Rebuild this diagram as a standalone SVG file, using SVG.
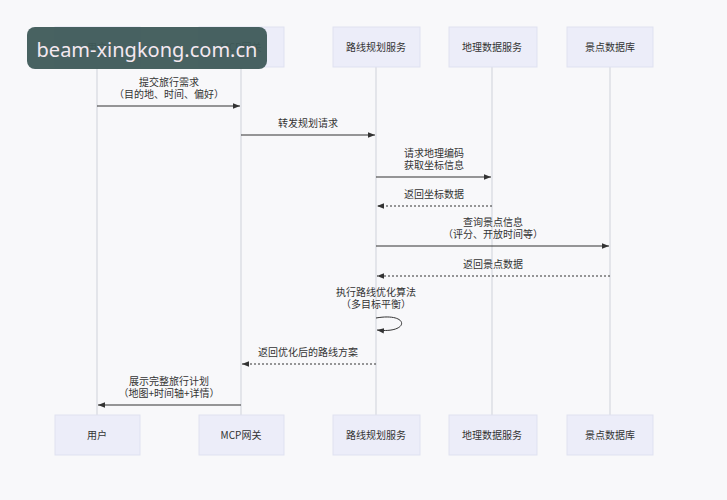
<svg xmlns="http://www.w3.org/2000/svg" width="727" height="500" viewBox="0 0 727 500">
<style>
.box{fill:#ecedf9;stroke:#dfe1f0;stroke-width:1}
.t{font-family:"Noto Sans CJK SC","Noto Sans",sans-serif;font-size:10px;fill:#333;text-anchor:middle}
.life{stroke:#cfd2da;stroke-width:1}
.m{stroke:#333;stroke-width:1;fill:none}
.d{stroke-dasharray:2,2}
</style>
<defs><marker id="a" viewBox="0 0 10 10" refX="10" refY="5" markerWidth="7" markerHeight="7" orient="auto"><path d="M0,1L10,5L0,9z" fill="#333"/></marker></defs>
<rect width="727" height="500" fill="#f8f8fa"/>
<g id="lifelines">
<line class="life" x1="97" y1="67" x2="97" y2="415"/>
<line class="life" x1="241" y1="67" x2="241" y2="415"/>
<line class="life" x1="376" y1="67" x2="376" y2="415"/>
<line class="life" x1="492" y1="67" x2="492" y2="415"/>
<line class="life" x1="610" y1="67" x2="610" y2="415"/>
</g>
<g id="n-user"><rect class="box" x="55" y="27" width="85" height="40"/><text class="t" x="97" y="51">用户</text><rect class="box" x="55" y="415" width="85" height="40"/><text class="t" x="97" y="439">用户</text></g>
<g id="n-mcp"><rect class="box" x="199" y="27" width="85" height="40"/><text class="t" x="241" y="51">MCP网关</text><rect class="box" x="199" y="415" width="85" height="40"/><text class="t" x="241" y="439">MCP网关</text></g>
<g id="n-route"><rect class="box" x="333" y="27" width="87" height="40"/><text class="t" x="376" y="51">路线规划服务</text><rect class="box" x="333" y="415" width="87" height="40"/><text class="t" x="376" y="439">路线规划服务</text></g>
<g id="n-geo"><rect class="box" x="449" y="27" width="88" height="40"/><text class="t" x="492" y="51">地理数据服务</text><rect class="box" x="449" y="415" width="88" height="40"/><text class="t" x="492" y="439">地理数据服务</text></g>
<g id="n-poi"><rect class="box" x="567" y="27" width="86" height="40"/><text class="t" x="610" y="51">景点数据库</text><rect class="box" x="567" y="415" width="86" height="40"/><text class="t" x="610" y="439">景点数据库</text></g>
<g id="connectors">
<line class="m" x1="97" y1="106" x2="240" y2="106" marker-end="url(#a)"/>
<text class="t" x="169" y="86">提交旅行需求</text><text class="t" x="169" y="98">（目的地、时间、偏好）</text>
<line class="m" x1="241" y1="135" x2="375" y2="135" marker-end="url(#a)"/>
<text class="t" x="308" y="127">转发规划请求</text>
<line class="m" x1="376" y1="177" x2="491" y2="177" marker-end="url(#a)"/>
<text class="t" x="434" y="157">请求地理编码</text><text class="t" x="434" y="169">获取坐标信息</text>
<line class="m d" x1="492" y1="206" x2="377" y2="206" marker-end="url(#a)"/>
<text class="t" x="434" y="198">返回坐标数据</text>
<line class="m" x1="376" y1="246" x2="609" y2="246" marker-end="url(#a)"/>
<text class="t" x="493" y="226">查询景点信息</text><text class="t" x="493" y="238">（评分、开放时间等）</text>
<line class="m d" x1="610" y1="276" x2="377" y2="276" marker-end="url(#a)"/>
<text class="t" x="493" y="268">返回景点数据</text>
<path class="m" d="M376,318 C410,312 410,334 377,330" marker-end="url(#a)"/>
<text class="t" x="376" y="296">执行路线优化算法</text><text class="t" x="376" y="308">（多目标平衡）</text>
<line class="m d" x1="376" y1="364" x2="242" y2="364" marker-end="url(#a)"/>
<text class="t" x="308" y="356">返回优化后的路线方案</text>
<line class="m" x1="241" y1="405" x2="98" y2="405" marker-end="url(#a)"/>
<text class="t" x="169" y="385">展示完整旅行计划</text><text class="t" x="169" y="397">（地图+时间轴+详情）</text>
</g>
<g id="watermark"><rect x="27" y="27" width="240" height="42" rx="8" fill="#3e5a58" opacity="0.95"/><text x="147" y="57" font-family="'Noto Sans',sans-serif" font-size="20" fill="#f4e8f0" text-anchor="middle">beam-xingkong.com.cn</text></g>
</svg>
